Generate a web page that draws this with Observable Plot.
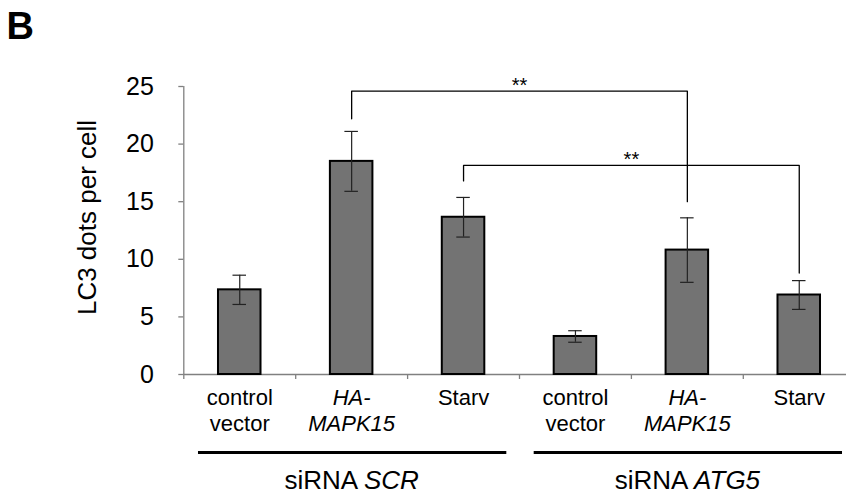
<!DOCTYPE html>
<html>
<head>
<meta charset="utf-8">
<script src="https://cdn.jsdelivr.net/npm/d3@7"></script>
<script src="https://cdn.jsdelivr.net/npm/@observablehq/plot@0.6"></script>
<style>
html, body { margin: 0; padding: 0; background: #fff; }
#wrap { position: relative; width: 846px; height: 494px; overflow: hidden; font-family: "Liberation Sans", Arial, sans-serif; }
#panel { position: absolute; left: 6.5px; top: 7px; font-size: 38px; line-height: 38px; font-weight: bold; color: #000; }
#chart svg g[aria-label^="y-axis"] path, #chart svg g[aria-label^="y-axis"] line { stroke: #808080; stroke-width: 1.3; }
</style>
</head>
<body>
<div id="wrap"><div id="chart"></div><div id="panel">B</div></div>
<script>
// ---- data ----
const categories = ["SCR control vector", "SCR HA-MAPK15", "SCR Starv", "ATG5 control vector", "ATG5 HA-MAPK15", "ATG5 Starv"];
const tickLabels = ["control\nvector", "HA-\nMAPK15", "Starv", "control\nvector", "HA-\nMAPK15", "Starv"];
const means = [7.35, 18.5, 13.65, 3.3, 10.8, 6.9];
const errors = [1.27, 2.6, 1.72, 0.5, 2.8, 1.25];
const yLabel = "LC3 dots per cell";
const yMax = 25;

const groupNames = ["siRNA SCR", "siRNA ATG5"];
const groupFirst = [0, 3];
const groupLast = [2, 5];

const bracketFrom = [1, 2];
const bracketTo = [4, 5];
const bracketTop = [24.6, 18.15];
const bracketFromEnd = [22.2, 16.8];
const bracketToEnd = [15.0, 8.8];
const bracketLabels = ["**", "**"];

// ---- layout ----
const W = 846, H = 494;
const xLeft = 183.3, xRight = 854.7;
const step = (xRight - xLeft) / categories.length;
const axisGray = "#808080";

const bars = categories.map((c, i) => ({
  cat: c, mean: means[i], lo: means[i] - errors[i], hi: means[i] + errors[i],
  label: tickLabels[i], italic: tickLabels[i].includes("MAPK15")
}));

const groups = groupNames.map((name, i) => ({
  name,
  first: categories[groupFirst[i]],
  last: categories[groupLast[i]],
  mid: categories[Math.round((groupFirst[i] + groupLast[i]) / 2)]
}));

const bracketPts = [];
bracketFrom.forEach((f, i) => {
  const t = bracketTo[i];
  bracketPts.push({b: i, x: categories[f], y: bracketFromEnd[i]});
  bracketPts.push({b: i, x: categories[f], y: bracketTop[i]});
  bracketPts.push({b: i, x: categories[t], y: bracketTop[i]});
  bracketPts.push({b: i, x: categories[t], y: bracketToEnd[i]});
});
const bracketText = bracketLabels.map((s, i) => ({
  text: s,
  x: categories[Math.floor((bracketFrom[i] + bracketTo[i]) / 2)],
  y: bracketTop[i]
}));

const plot = Plot.plot({
  width: W,
  height: H,
  marginLeft: xLeft,
  marginRight: 0,
  marginTop: 86,
  marginBottom: 120,
  style: {fontFamily: "Liberation Sans, Arial, sans-serif", fontSize: "25px", background: "transparent", color: "#000", overflow: "visible"},
  x: {type: "band", domain: categories, range: [xLeft, xRight], paddingInner: 0.62, paddingOuter: 0.31, round: false, axis: null},
  y: {domain: [0, yMax], ticks: 5, tickSize: 5, tickPadding: 25, label: null},
  marks: [
    // x axis line
    Plot.ruleY([0], {stroke: axisGray, strokeWidth: 1.3}),
    // y axis line
    Plot.ruleX([categories[0]], {x: d => d, y1: 0, y2: yMax, dx: -step / 2, stroke: axisGray, strokeWidth: 1.3}),
    // x ticks at category boundaries
    Plot.ruleX(categories, {x: d => d, y1: 0, y2: 0, dx: -step / 2, insetBottom: -5, stroke: axisGray, strokeWidth: 1.3}),
    // bars
    Plot.barY(bars, {x: "cat", y: "mean", fill: "#737373", stroke: "#000", strokeWidth: 2}),
    // error bars
    Plot.ruleX(bars, {x: "cat", y1: "lo", y2: "hi", stroke: "#222", strokeWidth: 1.2}),
    Plot.tickY(bars, {x: "cat", y: "hi", insetLeft: 14.5, insetRight: 14.5, stroke: "#222", strokeWidth: 1.2}),
    Plot.tickY(bars, {x: "cat", y: "lo", insetLeft: 14.5, insetRight: 14.5, stroke: "#222", strokeWidth: 1.2}),
    // significance brackets
    Plot.line(bracketPts, {x: "x", y: "y", z: "b", stroke: "#000", strokeWidth: 1.3}),
    Plot.text(bracketText, {x: "x", y: "y", text: "text", dx: step / 2, dy: -5.5, fontSize: 20}),
    // category labels
    Plot.text(bars.filter(d => !d.italic), {x: "cat", text: "label", frameAnchor: "bottom", lineAnchor: "top", dy: 12, fontSize: 22, lineHeight: 1.18}),
    Plot.text(bars.filter(d => d.italic), {x: "cat", text: "label", frameAnchor: "bottom", lineAnchor: "top", dy: 12, fontSize: 22, lineHeight: 1.18, fontStyle: "italic"}),
    // group lines and labels
    Plot.ruleY(groups, {x1: "first", x2: "last", y: 0, dy: 78, insetLeft: -20, insetRight: -22, stroke: "#000", strokeWidth: 3}),
    Plot.text(groups, {x: "mid", text: "name", frameAnchor: "bottom", lineAnchor: "top", dy: 96, fontSize: 26}),
    // y label
    Plot.text([yLabel], {text: d => d, frameAnchor: "left", textAnchor: "middle", rotate: -90, dx: -96, dy: -13, fontSize: 26})
  ]
});

document.getElementById("chart").appendChild(plot);

// italicize gene names in group labels
const ns = "http://www.w3.org/2000/svg";
plot.querySelectorAll("text").forEach(el => {
  const s = el.textContent;
  if (!groupNames.includes(s)) return;
  const k = s.indexOf(" ");
  el.textContent = "";
  const a = document.createElementNS(ns, "tspan");
  a.textContent = s.slice(0, k + 1);
  const b = document.createElementNS(ns, "tspan");
  b.textContent = s.slice(k + 1);
  b.setAttribute("font-style", "italic");
  el.appendChild(a);
  el.appendChild(b);
});
</script>
</body>
</html>
